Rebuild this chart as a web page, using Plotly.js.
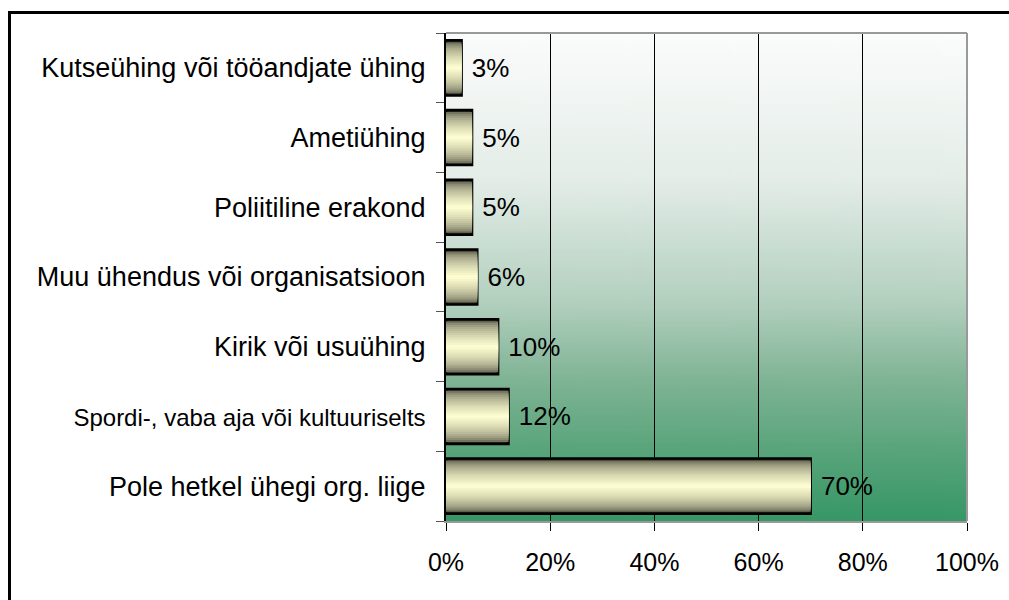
<!DOCTYPE html>
<html>
<head>
<meta charset="utf-8">
<script src="https://cdn.plot.ly/plotly-3.0.1.min.js"></script>
<style>
  html, body { margin: 0; padding: 0; background: #fff; overflow: hidden; }
  #chart { width: 1009px; height: 600px; }
  #frame {
    position: absolute; left: 8px; top: 11px; width: 1100px; height: 700px;
    border: 3px solid #000; pointer-events: none;
  }
</style>
</head>
<body>
<div id="chart"></div>
<div id="frame"></div>
<script>
// kategooriad alt üles (Plotly joonistab esimese alla)
const categories = [
  'Pole hetkel ühegi org. liige',
  'Spordi-, vaba aja või kultuuriselts',
  'Kirik või usuühing',
  'Muu ühendus või organisatsioon',
  'Poliitiline erakond',
  'Ametiühing',
  'Kutseühing või tööandjate ühing',
];
const values = [70, 12, 10, 6, 5, 5, 3];
const tickLabels = [
  'Pole hetkel ühegi org. liige',
  '<span style="font-size:24px">Spordi-, vaba aja või kultuuriselts</span>',
  'Kirik või usuühing',
  'Muu ühendus või organisatsioon',
  'Poliitiline erakond',
  'Ametiühing',
  'Kutseühing või tööandjate ühing',
];

const divPlot = document.getElementById('chart');

// taust: vertikaalne üleminek valgest roheliseks
function backgroundImage() {
  const c = document.createElement('canvas');
  c.width = 10;
  c.height = 500;
  const ctx = c.getContext('2d');
  const g = ctx.createLinearGradient(0, 0, 0, 500);
  g.addColorStop(0, '#fbfcfc');
  g.addColorStop(0.3, '#e4ede8');
  g.addColorStop(0.55, '#b3d0bf');
  g.addColorStop(0.71, '#80b495');
  g.addColorStop(0.85, '#5aa57c');
  g.addColorStop(1, '#379766');
  ctx.fillStyle = g;
  ctx.fillRect(0, 0, 10, 500);
  return c.toDataURL();
}

// silindri efekt: mitu kihti üksteise peal, kitsenevad ja heledamad
const dark = [40, 40, 32];
const light = [252, 252, 208];
const layers = 14;
const barWidth = 0.79;

const mix = (t) =>
  'rgb(' + dark.map((d, i) => Math.round(d + (light[i] - d) * t)).join(',') + ')';

const data = [];
for (let i = 0; i < layers; i++) {
  const t = i / (layers - 1);
  const trace = {
    type: 'bar',
    orientation: 'h',
    x: values,
    y: categories,
    width: barWidth * (1 - 0.93 * t),
    marker: {
      color: mix(Math.pow(t, 0.4)),
      line: { width: i === 0 ? 2.5 : 0, color: '#000' },
    },
    hoverinfo: 'skip',
    showlegend: false,
  };
  if (i === 0) {
    trace.text = values.map((v) => '\u00a0' + v + '%');
    trace.textposition = 'outside';
    trace.textfont = { size: 26, color: '#000', family: 'Liberation Sans, Arial, sans-serif' };
    trace.cliponaxis = false;
  }
  data.push(trace);
}

const layout = {
  width: 1009,
  height: 600,
  margin: { l: 446, r: 42, t: 33, b: 79 },
  paper_bgcolor: 'rgba(0,0,0,0)',
  plot_bgcolor: 'rgba(0,0,0,0)',
  barmode: 'overlay',
  font: { family: 'Liberation Sans, Arial, sans-serif', size: 27, color: '#000' },
  xaxis: {
    range: [0, 100],
    dtick: 20,
    ticksuffix: '%',
    ticks: 'outside',
    ticklen: 8,
    tickcolor: '#000',
    tickfont: { size: 25 },
    ticklabelstandoff: 10,
    showgrid: true,
    gridcolor: '#000',
    gridwidth: 1,
    zeroline: false,
    showline: true,
    linecolor: '#999',
    linewidth: 2,
    mirror: false,
    fixedrange: true,
  },
  yaxis: {
    type: 'category',
    tickmode: 'array',
    tickvals: categories,
    ticktext: tickLabels,
    tickson: 'boundaries',
    ticks: 'outside',
    ticklen: 8,
    tickcolor: '#555',
    ticklabelstandoff: 13,
    showgrid: false,
    showline: true,
    linecolor: '#000',
    linewidth: 2,
    fixedrange: true,
  },
  images: [{
    source: backgroundImage(),
    xref: 'paper', yref: 'paper',
    x: 0, y: 1, sizex: 1, sizey: 1,
    sizing: 'stretch',
    layer: 'below',
  }],
  shapes: [
    // hallid ülemine ja parem serv
    { type: 'line', xref: 'paper', yref: 'paper', x0: 0, x1: 1, y0: 1, y1: 1, line: { color: '#999', width: 2 } },
    { type: 'line', xref: 'paper', yref: 'paper', x0: 1, x1: 1, y0: 0, y1: 1, line: { color: '#999', width: 2 } },
  ],
  hovermode: false,
};

Plotly.newPlot(divPlot, data, layout, { staticPlot: true, displayModeBar: false });
</script>
</body>
</html>
